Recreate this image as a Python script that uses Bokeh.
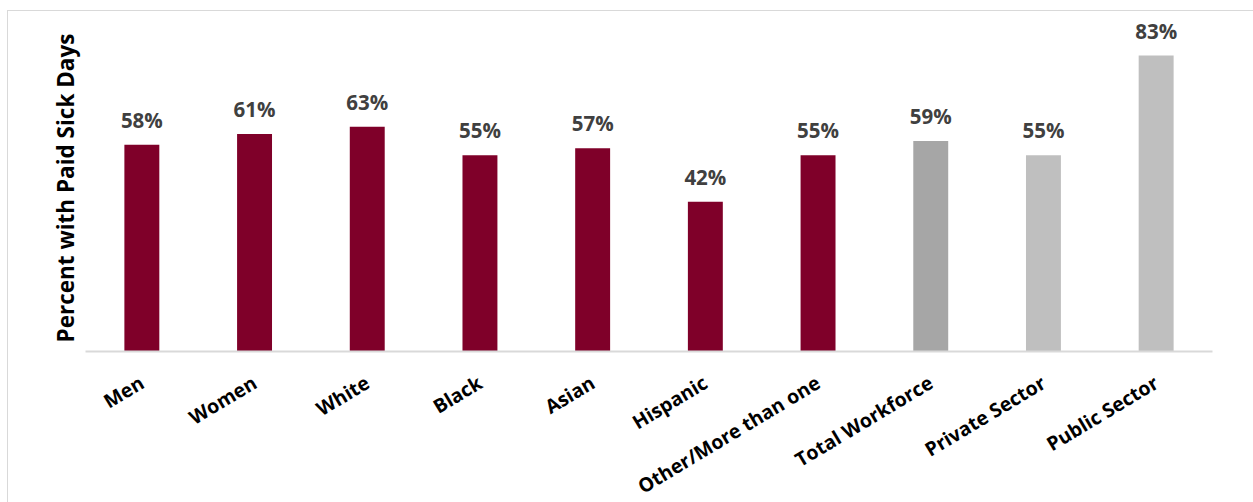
import math
from bokeh.plotting import figure
from bokeh.models import ColumnDataSource, FactorRange, Range1d, Title
from bokeh.core.properties import value
from bokeh.embed import file_html
from bokeh.resources import INLINE

categories = ["Men", "Women", "White", "Black", "Asian", "Hispanic",
              "Other/More than one", "Total Workforce", "Private Sector", "Public Sector"]
percent_paid_sick = [58, 61, 63, 55, 57, 42, 55, 59, 55, 83]
value_labels = ["58%", "61%", "63%", "55%", "57%", "42%", "55%", "59%", "55%", "83%"]
y_axis_title = "Percent with Paid Sick Days"

MAROON = "#7F0029"
DARK_GRAY = "#A6A6A6"
LIGHT_GRAY = "#BFBFBF"
bar_colors = [MAROON] * 7 + [DARK_GRAY, LIGHT_GRAY, LIGHT_GRAY]

src = ColumnDataSource(dict(cat=categories, val=percent_paid_sick,
                            lab=value_labels, color=bar_colors))

p = figure(x_range=FactorRange(*categories), y_range=Range1d(0, 95.06),
           width=1245, height=491, output_backend="svg", toolbar_location=None,
           min_border_left=77, min_border_right=41, min_border_top=1,
           min_border_bottom=151)
p.frame_width = 1127
p.frame_height = 339
p.styles = {"margin-left": "7px", "margin-top": "10px",
            "border-top": "1px solid #d9d9d9", "border-left": "1px solid #d9d9d9"}

p.vbar(x="cat", top="val", width=0.31, color="color", line_color=None, source=src)
p.text(x="cat", y="val", text="lab", source=src, text_align="center",
       text_baseline="alphabetic", y_offset=-25,
       text_font=value("Open Sans"), text_font_style="bold",
       text_font_size="20.5px", text_color="#404040")

p.outline_line_color = None
p.xgrid.grid_line_color = None
p.ygrid.grid_line_color = None
p.background_fill_color = "white"

xa = p.xaxis[0]
xa.axis_line_color = "#d9d9d9"
xa.axis_line_width = 2
xa.major_tick_line_color = None
xa.minor_tick_line_color = None
xa.major_label_orientation = math.radians(31)
xa.major_label_text_font = "Open Sans"
xa.major_label_text_font_style = "bold"
xa.major_label_text_font_size = "19.5px"
xa.major_label_text_color = "#000000"
xa.major_label_standoff = 23

p.yaxis.visible = False
ytitle = Title(text=y_axis_title, align="left", offset=9,
               text_font="Open Sans", text_font_style="bold",
               text_font_size="22.5px", text_color="#000000", standoff=10)
p.add_layout(ytitle, "left")

open("out.html", "w").write(file_html(p, INLINE))
